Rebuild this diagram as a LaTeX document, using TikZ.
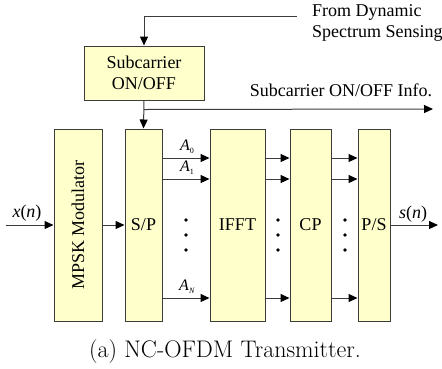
\documentclass[tikz,border=0pt]{standalone}
\usepackage{fontspec}
\newfontfamily\tnr{Liberation Serif}
\usetikzlibrary{arrows.meta,calc}
\definecolor{boxfill}{RGB}{255,255,204}
\definecolor{linec}{RGB}{60,60,60}
\tikzset{
  blk/.style={draw=linec, line width=1pt, fill=boxfill, inner sep=0pt, minimum height=192pt, font=\tnr\fontsize{18}{21}\selectfont},
  arr/.style={draw=linec, line width=1pt, -{Triangle[length=9pt,width=8pt,color=black]}},
  ln/.style={draw=linec, line width=1pt},
  lbl/.style={font=\tnr\fontsize{18}{21}\selectfont, inner sep=0pt},
  dotc/.style={fill=black},
}
\newcommand{\subA}[1]{\textit{A}\raisebox{-3pt}{\fontsize{8}{8}\selectfont #1}}
\begin{document}
\begin{tikzpicture}[x=1pt,y=-1pt]
\useasboundingbox (0,0) rectangle (442,368);
% blocks
\node[blk, minimum width=120pt, minimum height=54pt, align=center] (sub) at (144,73) {Subcarrier\\ON/OFF};
\node[blk, minimum width=48pt] (mpsk) at (78,225) {};
\node[lbl, rotate=90] (mpsklbl) at (mpsk.center) {MPSK Modulator};
\node[blk, minimum width=37pt] (sp) at (143.5,225) {S/P};
\node[blk, minimum width=55pt] (ifft) at (237.5,225) {IFFT};
\node[blk, minimum width=41pt] (cp) at (310.5,225) {CP};
\node[blk, minimum width=32pt] (ps) at (374,225) {P/S};
% top input
\coordinate (fromdyn) at (297,16);
\draw[arr] (fromdyn) -| (sub.north);
\node[lbl, anchor=west, align=left] (fromlbl) at (312,23) {From Dynamic\\Spectrum Sensing};
% sub -> sp and info
\draw[arr] (sub.south) -- (sp.north);
\coordinate (br) at ($(sub.south)+(0,9)$);
\coordinate (infoend) at (433,109);
\draw[arr] (br) -- (infoend);
\node[lbl] (infolbl) at (341,90) {Subcarrier ON/OFF Info.};
% input x(n)
\coordinate (xin) at (6,225);
\draw[arr] (xin) -- (mpsk.west);
\node[lbl] (xlbl) at (27,213) {\textit{x}(\textit{n})};
\draw[arr] (mpsk.east) -- (sp.west);
% parallel lines
\foreach \yy in {158,179,298}{
  \draw[arr] (sp.east |- 0,\yy) -- (ifft.west |- 0,\yy);
  \draw[arr] (ifft.east |- 0,\yy) -- (cp.west |- 0,\yy);
  \draw[arr] (cp.east |- 0,\yy) -- (ps.west |- 0,\yy);
}
\node[lbl, font=\tnr\fontsize{16}{18}\selectfont] (a0) at (187,147) {\subA{0}};
\node[lbl, font=\tnr\fontsize{16}{18}\selectfont] (a1) at (187,168) {\subA{1}};
\node[lbl, font=\tnr\fontsize{16}{18}\selectfont] (an) at (187,287) {\subA{\textit{N}}};
% dots
\foreach \xx in {186,278,345}{
  \foreach \yy in {220,235,250}{
    \fill[dotc] (\xx,\yy) circle (1.8pt);
  }
}
% output
\coordinate (sout) at (438,225);
\draw[arr] (ps.east) -- (sout);
\node[lbl] (slbl) at (413,214) {\textit{s}(\textit{n})};
% caption
\node[inner sep=0pt, font=\fontsize{24}{27}\selectfont] (cap) at (225,352) {(a) NC-OFDM Transmitter.};
\end{tikzpicture}
\end{document}
